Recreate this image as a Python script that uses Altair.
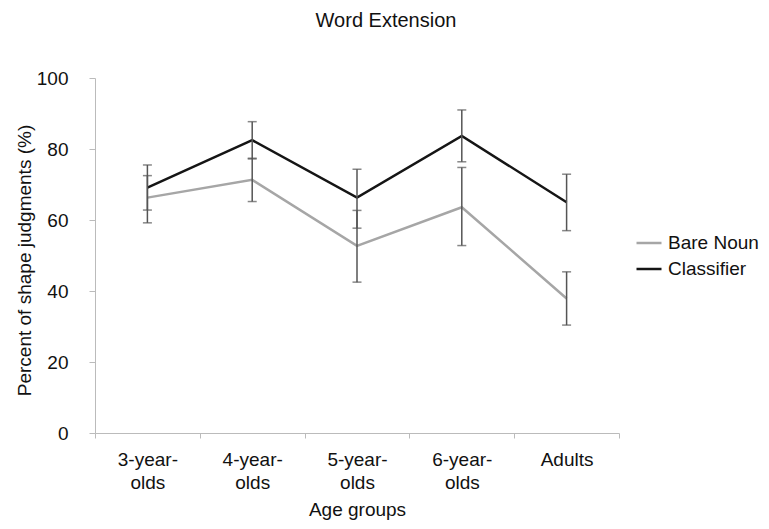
import altair as alt
import pandas as pd

groups = ["3-year-olds", "4-year-olds", "5-year-olds", "6-year-olds", "Adults"]
conditions = ["Bare Noun", "Classifier"]

bare_mean = [66.3, 71.3, 52.7, 63.6, 37.9]
bare_low = [62.8, 65.2, 42.5, 52.8, 30.4]
bare_high = [72.5, 77.4, 62.7, 74.8, 45.4]

clf_mean = [69.1, 82.5, 66.3, 83.7, 65.0]
clf_low = [59.2, 77.2, 57.7, 76.4, 57.0]
clf_high = [75.5, 87.7, 74.3, 91.0, 72.9]

rows = []
for i, g in enumerate(groups):
    rows.append({"group": g, "cond": "Bare Noun", "mean": bare_mean[i], "lo": bare_low[i], "hi": bare_high[i]})
    rows.append({"group": g, "cond": "Classifier", "mean": clf_mean[i], "lo": clf_low[i], "hi": clf_high[i]})
df = pd.DataFrame(rows)

FONT = "Liberation Sans"
FS = 19

x = alt.X(
    "group:N",
    sort=groups,
    title="Age groups",
    scale=alt.Scale(paddingInner=0, paddingOuter=0),
    axis=alt.Axis(
        labelExpr="indexof(datum.label, '-olds') > 0 ? [replace(datum.label, 'olds', ''), 'olds'] : datum.label",
        labelAngle=0,
        tickBand="extent",
        tickSize=5,
        labelPadding=12,
        titlePadding=8,
        labelFontSize=FS,
        titleFontSize=FS,
        labelLineHeight=23,
    ),
)

color = alt.Color(
    "cond:N",
    sort=conditions,
    scale=alt.Scale(domain=conditions, range=["#a6a6a6", "#151515"]),
    legend=alt.Legend(
        title=None,
        orient="none",
        legendX=540,
        legendY=151,
        symbolType="stroke",
        symbolSize=625,
        symbolStrokeWidth=2.5,
        labelFontSize=FS,
        labelFont=FONT,
        labelColor="#111111",
        labelOffset=5,
        labelLimit=200,
        rowPadding=2,
    ),
)

y = alt.Y(
    "mean:Q",
    title="Percent of shape judgments (%)",
    scale=alt.Scale(domain=[0, 100]),
    axis=alt.Axis(
        values=[0, 20, 40, 60, 80, 100],
        tickSize=6,
        labelPadding=21,
        labelFontSize=FS,
        titleFontSize=FS,
        titleX=-71,
        titleY=182,
        titleBaseline="middle",
        titleAlign="center",
        grid=False,
    ),
)

lines = alt.Chart(df).mark_line(strokeWidth=2.5).encode(x=x, y=y, color=color, order=alt.Order("cond:N"))

errs = alt.Chart(df).mark_errorbar(
    ticks=alt.MarkConfig(size=9, color="#555555", strokeWidth=1.5), color="#555555", thickness=1.5
).encode(
    x=alt.X("group:N", sort=groups),
    y=alt.Y("lo:Q", title="Percent of shape judgments (%)"),
    y2="hi:Q",
    detail="cond:N",
)

chart = (
    alt.layer(lines, errs)
    .properties(
        width=524,
        height=355,
        title=alt.TitleParams("Word Extension", fontSize=20, font=FONT, fontWeight="normal", color="#111111", dx=29, offset=38),
        autosize=alt.AutoSizeParams(type="none"),
        padding={"left": 87, "top": 70, "right": 142, "bottom": 88},
    )
    .configure_view(stroke=None)
    .configure_axis(
        labelFont=FONT,
        titleFont=FONT,
        titleFontWeight="normal",
        labelColor="#111111",
        titleColor="#111111",
        domainColor="#bbbbbb",
        tickColor="#bbbbbb",
        grid=False,
    )
)

chart.save("out.html", embed_options={"renderer": "svg", "actions": False})
